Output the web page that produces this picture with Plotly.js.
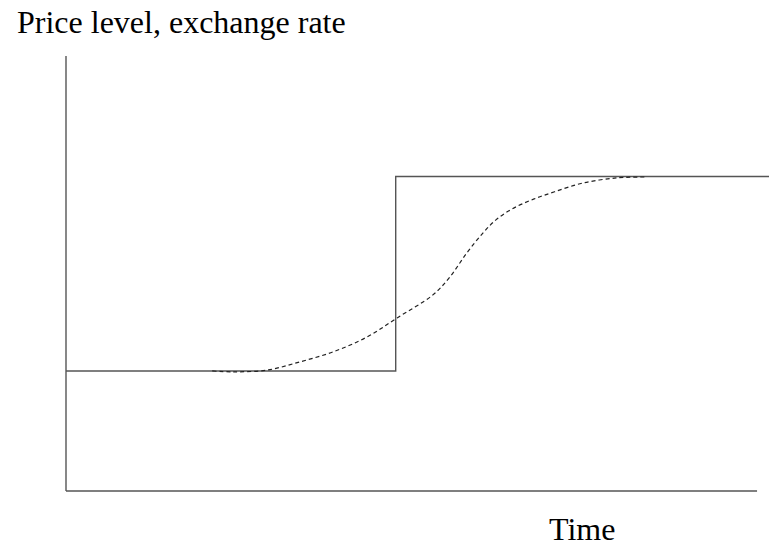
<!DOCTYPE html>
<html>
<head>
<meta charset="utf-8">
<script src="https://cdn.plot.ly/plotly-3.0.1.min.js"></script>
<style>html,body{margin:0;padding:0;background:#fff;}#chart{width:769px;height:543px;}</style>
</head>
<body>
<div id="chart"></div>
<script>
// Solid path: price level jumps at the shock time
var solidTime = [0, 46.9, 46.9, 100];
var solidLevel = [27.6, 27.6, 72.3, 72.3];

// Dashed path: gradual adjustment
var dashTime = [20.8, 23.8, 28.6, 33.3, 38.0, 42.8, 47.1, 52.2, 54.6, 57.0, 59.3, 61.2, 63.5, 66.5, 69.5, 73.5, 78.4, 82.4];
var dashLevel = [27.6, 27.4, 27.8, 29.7, 32.0, 35.4, 39.8, 45.1, 49.2, 54.7, 59.3, 62.4, 64.9, 67.1, 68.8, 70.8, 72.0, 72.2];

// Axis lines
var axisXEnd = 98.3;
var axisYEnd = 100;

var yLabel = 'Price level, exchange rate';
var xLabel = 'Time';

var traces = [
  {x: [0, 0], y: [0, axisYEnd], mode: 'lines', line: {color: '#555', width: 1.4}, hoverinfo: 'skip', cliponaxis: false},
  {x: [0, axisXEnd], y: [0, 0], mode: 'lines', line: {color: '#555', width: 1.4}, hoverinfo: 'skip', cliponaxis: false},
  {x: solidTime, y: solidLevel, mode: 'lines', line: {color: '#555', width: 1.4}, hoverinfo: 'skip', cliponaxis: false},
  {x: dashTime, y: dashLevel, mode: 'lines', line: {color: '#222', width: 1.2, dash: '4px,3px', shape: 'spline', smoothing: 1}, hoverinfo: 'skip', cliponaxis: false}
];

var layout = {
  width: 769, height: 543,
  margin: {l: 60, r: 0, t: 50, b: 46},
  paper_bgcolor: '#fff', plot_bgcolor: '#fff',
  showlegend: false,
  font: {family: 'Liberation Serif, Times New Roman, serif', color: '#000', size: 32},
  xaxis: {range: [-0.853, 100], showgrid: false, zeroline: false, showline: false, showticklabels: false, ticks: ''},
  yaxis: {range: [-1.38, 101.4], showgrid: false, zeroline: false, showline: false, showticklabels: false, ticks: ''},
  annotations: [
    {text: yLabel, xref: 'paper', yref: 'paper', x: (15 - 60) / 709, y: (543 - 2 - 46) / 447, xanchor: 'left', yanchor: 'top', showarrow: false, font: {size: 32}},
    {text: xLabel, xref: 'paper', yref: 'paper', x: (582 - 60) / 709, y: -(12) / 447, xanchor: 'center', yanchor: 'top', showarrow: false, font: {size: 32}}
  ]
};

Plotly.newPlot('chart', traces, layout, {staticPlot: true, displayModeBar: false});
</script>
</body>
</html>
